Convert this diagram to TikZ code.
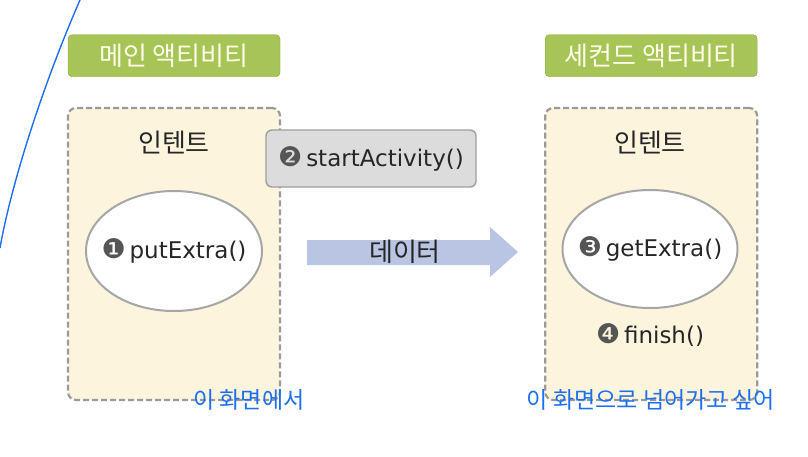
\documentclass[tikz,border=0pt]{standalone}
\usepackage{fontspec}
\setmainfont{Noto Sans CJK KR}
\newfontfamily\numfont{DejaVu Sans}
\newfontfamily\codefont{DejaVu Sans}
\usetikzlibrary{positioning,shapes.geometric}
\definecolor{titlegreen}{HTML}{A6C556}
\definecolor{intentfill}{HTML}{FCF4DC}
\definecolor{dashgray}{HTML}{9A9A9A}
\definecolor{callgray}{HTML}{DCDCDC}
\definecolor{arrowblue}{HTML}{BAC5E3}
\definecolor{noteblue}{HTML}{1E6FF0}
\definecolor{numgray}{HTML}{555555}
\newcommand{\stepno}[1]{{\numfont\color{numgray}\fontsize{27}{27}\selectfont#1}}

\begin{document}
\begin{tikzpicture}[
      x=1pt, y=-1pt,
      every node/.style={font=\fontsize{26}{30}\selectfont, text=black!85},
      code/.style={font=\codefont\fontsize{23}{27}\selectfont, inner sep=0pt},
      titlebox/.style={draw=titlegreen!85!black, fill=titlegreen, rounded corners=4pt,
        minimum width=212pt, minimum height=42pt, text=white!92!yellow},
      intentbox/.style={draw=dashgray, fill=intentfill, dash pattern=on 6pt off 3pt,
        line width=2.2pt, rounded corners=8pt, minimum width=212pt, minimum height=292pt},
      callbox/.style={draw=gray!75, fill=callgray, rounded corners=6pt, line width=1.4pt,
        minimum width=210pt, minimum height=57pt},
      methodoval/.style={ellipse, draw=gray!70, fill=white, line width=2pt,
        minimum width=176pt, minimum height=120pt, inner sep=0pt},
      note/.style={text=noteblue, font=\fontsize{23}{27}\selectfont}
    ]
    \useasboundingbox (0,0) rectangle (808,456);
    % hand-drawn blue stroke
    \draw[noteblue, line width=1.4pt] (80,0) .. controls (45,80) and (12,180) .. (0,248);

    \node[intentbox] (lbox) at (174,254) {};
    \node[intentbox] (rbox) [right=263pt of lbox] {};
    \node[titlebox] (ltitle) [above=30pt of lbox] {메인 액티비티};
    \node[titlebox] (rtitle) [above=30pt of rbox] {세컨드 액티비티};

    \node (lintent) at (174,143) {인텐트};
    \node (rintent) at (650,143) {인텐트};
    \node[methodoval] (lintentoval) at (174,251) {};
    \node[methodoval, minimum width=175pt, minimum height=118pt] (rintentoval) at (650,249) {};
    \node[code] (put) at (lintentoval) {\stepno{❶}\,putExtra()};
    \node[code] (get) at (rintentoval) {\stepno{❸}\,getExtra()};
    \node[code] (finish) at (650,335) {\stepno{❹}\,finish()};

    \node[callbox] (start) at (371,158.5) {};
    \node[code] (startlbl) at (start) {\stepno{❷}\,startActivity()};

    % data arrow
    \fill[arrowblue] (307,240) -- (490,240) -- (490,227) -- (518,252)
      -- (490,277) -- (490,265) -- (307,265) -- cycle;
    \node (data) at (405,252) {데이터};

    \node[note] (lnote) at (249,400) {이 화면에서};
    \node[note] (rnote) at (651,400) {이 화면으로 넘어가고 싶어};
  \end{tikzpicture}
\end{document}
